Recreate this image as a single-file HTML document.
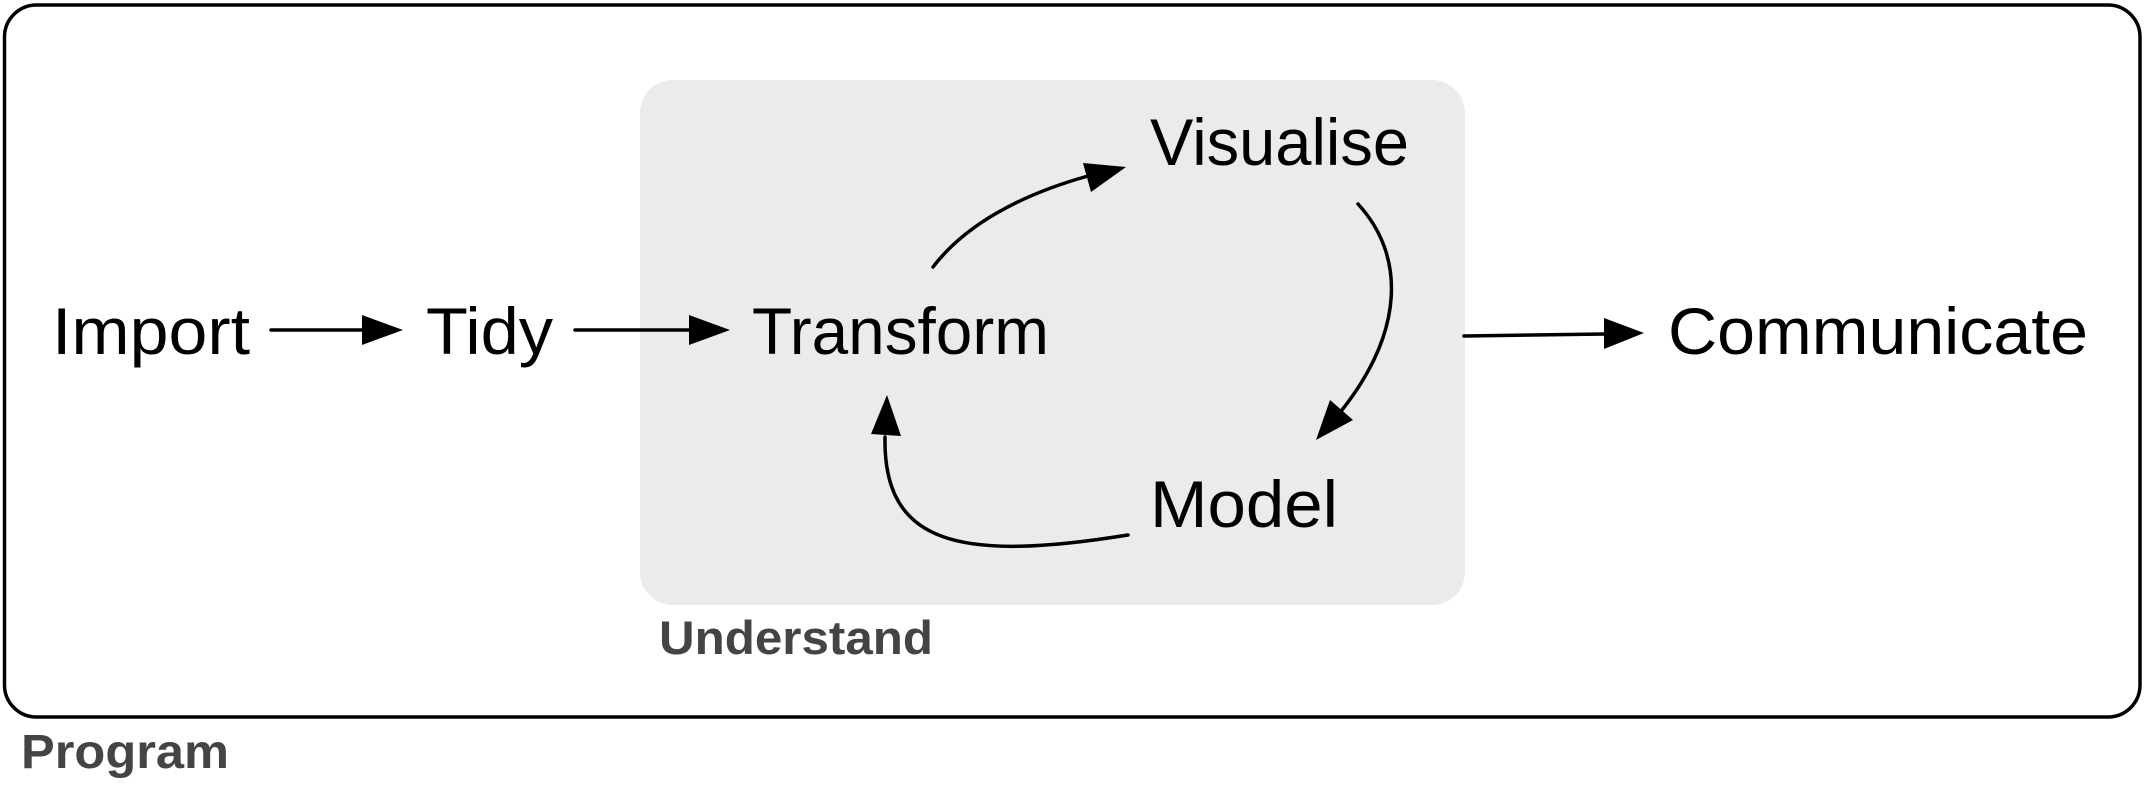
<!DOCTYPE html>
<html>
<head>
<meta charset="utf-8">
<style>
  html, body { margin: 0; padding: 0; background: #ffffff; }
  body { width: 2147px; height: 785px; overflow: hidden; }
  svg { display: block; }
  .n { font-family: "Liberation Sans", Arial, Helvetica, sans-serif; font-size: 66px; fill: #000; }
  .l { font-family: "Liberation Sans", Arial, Helvetica, sans-serif; font-weight: bold; fill: #444444; }
</style>
</head>
<body>
<svg width="2147" height="785" viewBox="0 0 2147 785" xmlns="http://www.w3.org/2000/svg">
  <!-- Outer Program frame -->
  <rect x="4.5" y="5" width="2135.5" height="712" rx="32" ry="32" fill="#ffffff" stroke="#000" stroke-width="3.5"/>

  <!-- Understand gray box -->
  <rect x="640" y="80" width="825" height="525" rx="33" ry="33" fill="#ebebeb"/>

  <!-- Labels -->
  <text class="l" x="21" y="768" font-size="48" textLength="208" lengthAdjust="spacingAndGlyphs">Program</text>
  <text class="l" x="659" y="654" font-size="47" textLength="274" lengthAdjust="spacingAndGlyphs">Understand</text>

  <!-- Node texts -->
  <text class="n" x="52" y="354" textLength="198" lengthAdjust="spacingAndGlyphs">Import</text>
  <text class="n" x="426" y="354" textLength="127" lengthAdjust="spacingAndGlyphs">Tidy</text>
  <text class="n" x="752" y="354" textLength="297" lengthAdjust="spacingAndGlyphs">Transform</text>
  <text class="n" x="1150" y="165" textLength="259" lengthAdjust="spacingAndGlyphs">Visualise</text>
  <text class="n" x="1150" y="527" textLength="188" lengthAdjust="spacingAndGlyphs">Model</text>
  <text class="n" x="1668" y="354" textLength="420" lengthAdjust="spacingAndGlyphs">Communicate</text>

  <g stroke="#000" stroke-width="3.5" fill="none" stroke-linecap="round">
    <!-- Import -> Tidy -->
    <line x1="271" y1="330" x2="363" y2="330"/>
    <!-- Tidy -> Transform -->
    <line x1="575" y1="330" x2="690" y2="330"/>
    <!-- Understand -> Communicate -->
    <line x1="1464" y1="336" x2="1605" y2="334"/>
    <!-- Transform -> Visualise -->
    <path d="M933,267 C965,225 1020,195 1088,176"/>
    <!-- Visualise -> Model -->
    <path d="M1358,204 C1405,255 1405,330 1342,410"/>
    <!-- Model -> Transform -->
    <path d="M1128,535 C960,562 883,545 885,437"/>
  </g>

  <g fill="#000">
    <polygon points="362,315 403,330 362,345"/>
    <polygon points="689,315 730,330 689,345"/>
    <polygon points="1604,318 1644,333 1604,349"/>
    <polygon points="1083,163 1126,167 1091,192"/>
    <polygon points="1330,400 1353,420 1316,440"/>
    <polygon points="871,434 901,436 887,395"/>
  </g>
</svg>
</body>
</html>
